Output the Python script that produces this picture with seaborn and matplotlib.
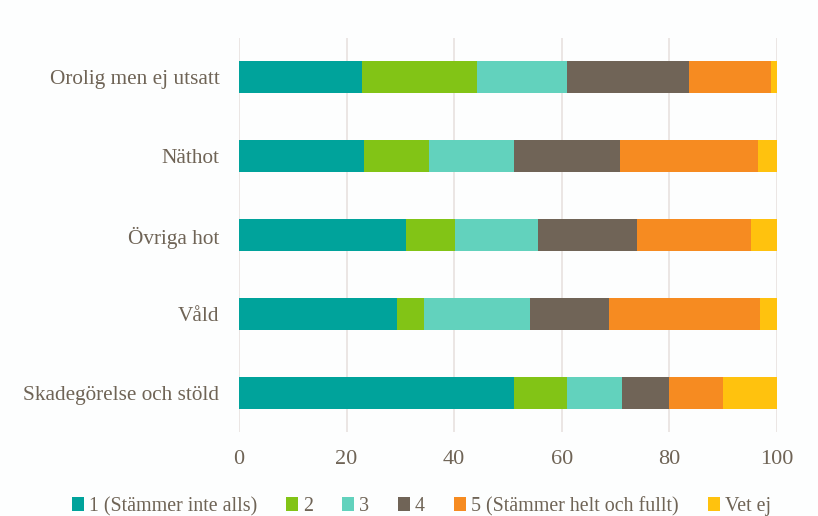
import numpy as np
import pandas as pd
import matplotlib.pyplot as plt
import seaborn as sns
from matplotlib.patches import Patch

# Data (percent per answer)
categories = ['Orolig men ej utsatt', 'Näthot', 'Övriga hot', 'Våld',
              'Skadegörelse och stöld']
answers = ['1 (Stämmer inte alls)', '2', '3', '4',
           '5 (Stämmer helt och fullt)', 'Vet ej']
svar_1 = [22.8, 23.3, 31.1, 29.4, 51.1]
svar_2 = [21.5, 12.0, 9.1, 5.0, 9.9]
svar_3 = [16.6, 15.9, 15.3, 19.7, 10.2]
svar_4 = [22.7, 19.7, 18.5, 14.7, 8.7]
svar_5 = [15.3, 25.5, 21.2, 28.1, 10.0]
vet_ej = [1.1, 3.6, 4.8, 3.1, 10.1]
xticks = [0, 20, 40, 60, 80, 100]

colors = ['#00A39B', '#82C416', '#62D2BD', '#706457', '#F68B21', '#FFC20E']
text_color = '#6F6456'
bg = '#FDFEFE'

sns.set_theme(style='white')
plt.rcParams['font.family'] = ['Liberation Serif', 'DejaVu Serif']

series = [svar_1, svar_2, svar_3, svar_4, svar_5, vet_ej]
df = pd.DataFrame(dict(zip(answers, series)), index=categories)
cum = df.cumsum(axis=1)

fig = plt.figure(figsize=(8.18, 5.16), dpi=100, facecolor=bg)
ax = fig.add_axes([0.292, 0.162, 0.658, 0.765], facecolor=bg)

# draw cumulative layers, widest first, so each segment shows
for i in reversed(range(len(answers))):
    layer = pd.DataFrame({'kategori': categories,
                          'varde': cum[answers[i]].values})
    sns.barplot(data=layer, x='varde', y='kategori', orient='h',
                color=colors[i], width=0.4, saturation=1,
                edgecolor='none', ax=ax)

ax.set_xlim(0, 100)
ax.set_xticks(xticks)
ax.set_xlabel('')
ax.set_ylabel('')
ax.grid(axis='x', color='#E8E2DF', linewidth=1.2)
ax.set_axisbelow(True)
for s in ax.spines.values():
    s.set_visible(False)
ax.tick_params(axis='x', labelsize=16, colors=text_color, length=0, pad=13)
ax.tick_params(axis='y', labelsize=15.3, colors=text_color, length=0, pad=14)

handles = [Patch(facecolor=c, edgecolor='none') for c in colors]
fig.legend(handles, answers, loc='lower center', bbox_to_anchor=(0.515, -0.035),
           ncol=6, frameon=False, fontsize=14.4, handlelength=0.6,
           handleheight=0.7, handletextpad=0.25, columnspacing=1.45,
           labelcolor=text_color)

fig.savefig('out.png', dpi=100, facecolor=bg)
